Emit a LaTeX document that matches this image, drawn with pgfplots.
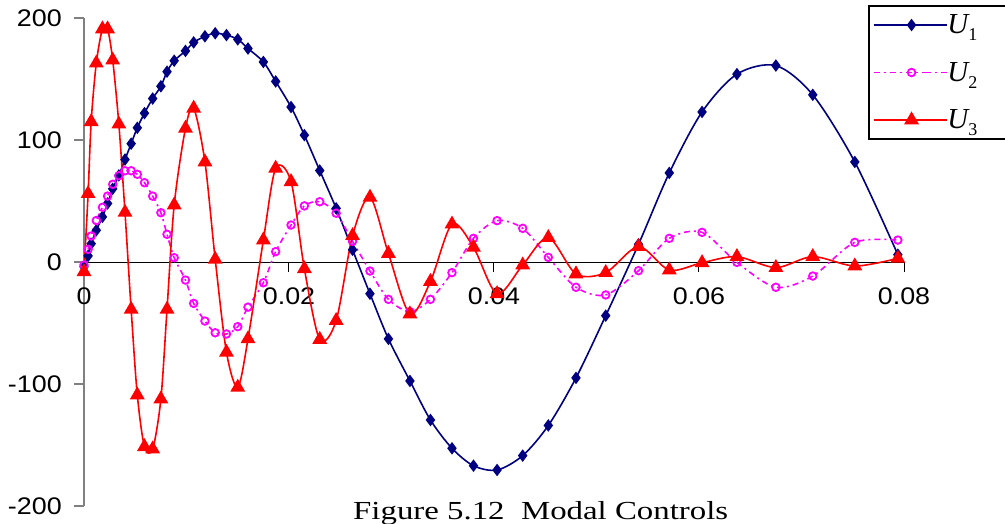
\documentclass[border=0pt]{standalone}
\usepackage{graphicx}
\usepackage{pgfplots}
\usepackage{pgfplotstable}
\pgfplotsset{compat=1.18}
\usepackage{fontspec}
\setmainfont{Liberation Sans}[FakeStretch=1.12]
\newfontfamily\seriffont{Liberation Serif}

\definecolor{unavy}{RGB}{0,0,128}
\definecolor{umag}{RGB}{255,0,255}
\definecolor{ured}{RGB}{255,0,0}

\pgfplotstableread{
x u1 u2 u3
0 -4 -2.5 -8
0.0004 5 10.4 56
0.0007 15 21.3 115
0.0012 26 34 163
0.0018 37 44.8 191
0.0023 48 54 191
0.0028 60 63.7 165.5
0.0034 71 70.7 113
0.0040 84 74.8 40.7
0.0046 97 74.8 -38.8
0.0052 110 71.9 -109
0.0059 122 65 -151.4
0.0067 134 54 -153.3
0.0075 144 40.4 -112.3
0.0081 156 22.7 -38.8
0.0088 165 3.5 46.7
0.0099 173 -14.8 109.6
0.0107 180 -33.9 126
0.0118 185 -48.4 82
0.0128 187.5 -58 2.2
0.0139 186 -59 -74
0.0150 182.5 -53 -102.7
0.0160 175 -37 -63
0.0175 164 -17 18
0.0187 148 8.5 76.8
0.0202 127 30.3 65.8
0.0215 104 46 -5.5
0.0230 75 49.4 -63.5
0.0246 44 40 -48
0.0262 10 17 21.6
0.0279 -26 -7.4 53
0.0297 -63 -30.6 7
0.0318 -97.5 -40.7 -42.6
0.0338 -129.5 -30.6 -16
0.0359 -152.7 -8.7 31
0.0380 -167 19.4 12
0.0403 -170.5 33.9 -26
0.0428 -158.7 27.6 -2.5
0.0453 -134 3.8 20
0.0480 -95 -20.7 -9.8
0.0509 -44 -27 -8.7
0.0541 14.5 -7.1 12.6
0.0571 73 19.4 -6.6
0.0603 123 24.3 -0.6
0.0637 154 -0.3 4.4
0.0675 161 -20.7 -4.6
0.0711 137 -11.5 4.4
0.0752 82 16.1 -3.3
0.0794 6 18 3
}\modal

\newcommand{\ulab}[1]{{\seriffont\fontsize{29}{29}\selectfont\itshape U}\raisebox{-7pt}{\seriffont\fontsize{18}{18}\selectfont #1}\hspace*{60pt}}

\begin{document}
\begin{tikzpicture}
\begin{axis}[
  at={(0pt,0pt)}, anchor=south west, scale only axis,
  width=820pt, height=488pt,
  xmin=0, xmax=0.08, ymin=-200, ymax=200,
  axis x line=middle, axis y line=left,
  axis line style={-},
  x axis line style={black, line width=1pt},
  y axis line style={draw=gray, line width=1.5pt},
  xtick={0,0.02,0.04,0.06,0.08},
  xticklabels={0,0.02,0.04,0.06,0.08},
  scaled x ticks=false,
  ytick={-200,-100,0,100,200},
  yticklabels={-200,-100,0,100,200},
  minor tick num=0,
  tick align=outside,
  major tick length=10pt,
  x tick style={black, line width=1pt},
  y tick style={gray, line width=1.5pt},
  hide obscured x ticks=false, hide obscured y ticks=false,
  tick label style={font=\fontsize{24}{24}\selectfont},
  yticklabel style={inner sep=0pt, anchor=east, xshift=-12pt},
  xticklabel style={inner sep=0pt, anchor=north, yshift=-16pt},
  clip=false,
  legend style={at={(rel axis cs:0.9561,1.0266)}, anchor=north west,
    draw=black, line width=1.5pt, fill=white,
    inner xsep=4pt, inner ysep=9pt, row sep=27pt,
    nodes={inner sep=0pt, anchor=west}},
  legend cell align=left,
  legend image code/.code={\draw[mark repeat=2,mark phase=2,#1] plot coordinates {(0pt,0pt) (38pt,0pt) (51pt,0pt)};\path (51pt,0pt) -- (73pt,0pt);},
]
\addplot[color=unavy, line width=1.6pt, smooth, mark=diamond*, mark size=5pt, mark options={solid, fill=unavy}] table[x=x, y=u1] {\modal};
\addlegendentry{\ulab{1}}
\addplot[color=umag, line width=1.6pt, smooth, dash pattern=on 6pt off 4pt on 2pt off 4pt, mark=o, mark size=3.8pt, mark options={solid, line width=1.8pt}] table[x=x, y=u2] {\modal};
\addlegendentry{\ulab{2}}
\addplot[color=ured, line width=1.6pt, smooth, mark=triangle*, mark size=7pt, mark options={solid, fill=ured}] table[x=x, y=u3] {\modal};
\addlegendentry{\ulab{3}}
\end{axis}
\node[anchor=base west, inner sep=0pt] at (269pt,-13pt) {\resizebox{375pt}{\height}{\seriffont\fontsize{26}{26}\selectfont Figure 5.12\ \ Modal Controls}};
\pgfresetboundingbox
\path[use as bounding box] (-84pt,-17pt) rectangle (921pt,506pt);
\end{tikzpicture}
\end{document}
